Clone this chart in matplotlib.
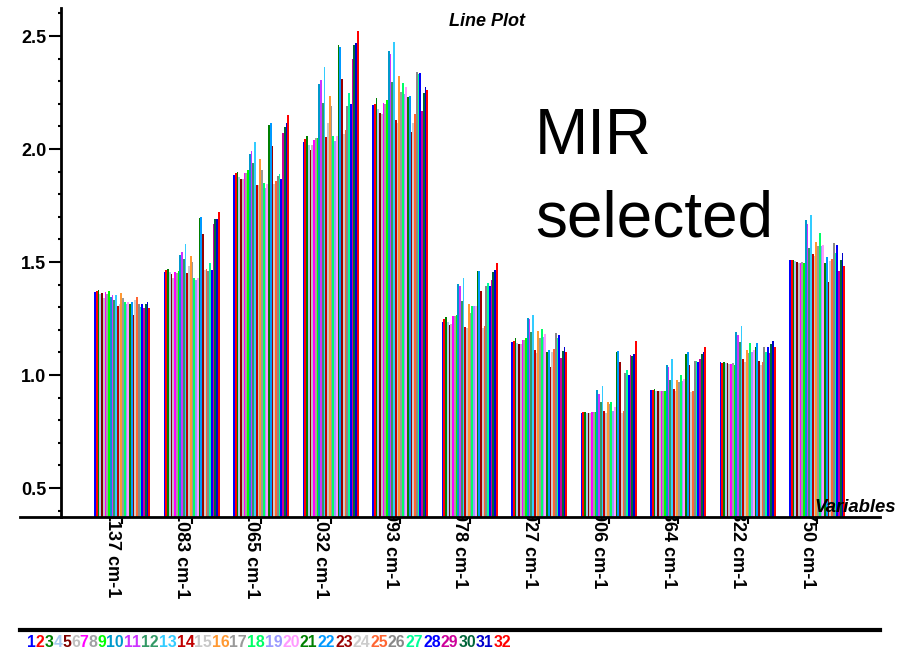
import numpy as np
import matplotlib
matplotlib.use("Agg")
import matplotlib.pyplot as plt
from matplotlib.transforms import Bbox, TransformedBbox, ScaledTranslation, blended_transform_factory
from matplotlib.lines import Line2D

plt.rcParams['font.family'] = ['Liberation Sans', 'DejaVu Sans']

# Datos: 11 variables (numero de onda), 32 muestras
variables = ["1137 cm-1", "1083 cm-1", "1065 cm-1", "1032 cm-1", "993 cm-1", "978 cm-1",
             "927 cm-1", "906 cm-1", "864 cm-1", "822 cm-1", "750 cm-1"]
muestras = [str(k) for k in range(1, 33)]

v1137 = [1.367, 1.372, 1.376, 1.36, 1.363, 1.342, 1.367, 1.36, 1.372, 1.347, 1.355, 1.332,
         1.355, 1.305, 1.314, 1.363, 1.34, 1.323, 1.314, 1.323, 1.314, 1.323, 1.266, 1.332,
         1.345, 1.314, 1.30, 1.314, 1.296, 1.314, 1.323, 1.296]
v1083 = [1.456, 1.465, 1.469, 1.456, 1.447, 1.429, 1.456, 1.451, 1.46, 1.531, 1.544, 1.513,
         1.58, 1.451, 1.482, 1.527, 1.50, 1.429, 1.42, 1.429, 1.695, 1.70, 1.624, 1.465,
         1.469, 1.46, 1.496, 1.465, 1.668, 1.69, 1.69, 1.721]
v1065 = [1.885, 1.894, 1.898, 1.876, 1.867, 1.867, 1.894, 1.894, 1.907, 1.978, 1.991, 1.938,
         2.031, 1.841, 1.841, 1.956, 1.907, 1.85, 1.827, 1.845, 2.106, 2.115, 2.013, 1.845,
         1.858, 1.881, 1.889, 1.867, 2.071, 2.097, 2.115, 2.15]
v1032 = [2.031, 2.044, 2.058, 2.018, 1.996, 2.018, 2.04, 2.049, 2.049, 2.288, 2.305, 2.204,
         2.363, 2.053, 2.115, 2.235, 2.19, 2.058, 2.035, 2.058, 2.46, 2.451, 2.31, 2.066,
         2.084, 2.19, 2.248, 2.2, 2.398, 2.46, 2.469, 2.522]
v993 = [2.195, 2.2, 2.226, 2.177, 2.159, 2.155, 2.204, 2.2, 2.217, 2.434, 2.42, 2.296,
        2.473, 2.128, 2.115, 2.323, 2.252, 2.292, 2.243, 2.274, 2.23, 2.235, 2.075, 2.115,
        2.155, 2.341, 2.332, 2.336, 2.168, 2.248, 2.274, 2.261]
v978 = [1.235, 1.248, 1.257, 1.235, 1.221, 1.226, 1.261, 1.261, 1.265, 1.403, 1.394, 1.327,
        1.429, 1.212, 1.208, 1.314, 1.274, 1.305, 1.305, 1.305, 1.46, 1.46, 1.372, 1.208,
        1.217, 1.394, 1.407, 1.394, 1.42, 1.456, 1.465, 1.496]
v927 = [1.146, 1.15, 1.164, 1.142, 1.137, 1.137, 1.155, 1.155, 1.164, 1.252, 1.248, 1.19,
        1.265, 1.111, 1.097, 1.195, 1.164, 1.204, 1.168, 1.181, 1.102, 1.111, 1.035, 1.102,
        1.115, 1.186, 1.164, 1.177, 1.075, 1.106, 1.124, 1.102]
v906 = [0.832, 0.836, 0.836, 0.83, 0.83, 0.83, 0.836, 0.836, 0.836, 0.934, 0.916, 0.88,
        0.951, 0.84, 0.83, 0.88, 0.87, 0.88, 0.84, 0.86, 1.102, 1.106, 1.058, 0.83,
        0.84, 1.009, 1.022, 1.0, 1.088, 1.084, 1.093, 1.15]
v864 = [0.934, 0.934, 0.938, 0.929, 0.929, 0.929, 0.929, 0.929, 0.929, 1.044, 1.035, 0.98,
        1.071, 0.938, 0.929, 0.978, 0.969, 1.0, 0.973, 0.982, 1.093, 1.102, 1.044, 0.925,
        0.929, 1.062, 1.062, 1.058, 1.071, 1.093, 1.102, 1.124]
v822 = [1.058, 1.053, 1.058, 1.053, 1.053, 1.049, 1.049, 1.053, 1.044, 1.19, 1.177, 1.146,
        1.217, 1.071, 1.058, 1.111, 1.097, 1.142, 1.102, 1.111, 1.124, 1.142, 1.062, 1.044,
        1.058, 1.124, 1.102, 1.124, 1.097, 1.137, 1.15, 1.124]
v750 = [1.509, 1.509, 1.509, 1.504, 1.50, 1.496, 1.496, 1.50, 1.496, 1.686, 1.668, 1.56,
        1.708, 1.535, 1.527, 1.588, 1.571, 1.628, 1.571, 1.575, 1.496, 1.522, 1.412, 1.504,
        1.513, 1.584, 1.54, 1.575, 1.46, 1.509, 1.54, 1.482]

datos = np.array([v1137, v1083, v1065, v1032, v993, v978, v927, v906, v864, v822, v750])

colores = ['#0000FF', '#FF0000', '#008000', '#A6CAF0', '#800000', '#C0C0C0', '#FF00FF', '#A0A0A4',
           '#00FF00', '#0099CC', '#CC33FF', '#339966', '#33CCFF', '#C00000', '#C8C8C8', '#FF9933',
           '#999999', '#00FF66', '#9999FF', '#FF99FF', '#008000', '#0099FF', '#990000', '#CCCCCC',
           '#FF6633', '#888888', '#00FF99', '#0000FF', '#CC0099', '#00663A', '#0000CC', '#FF0000']

# Figura
W, H = 898, 651
fig = plt.figure(figsize=(W/100, H/100), dpi=100)
ax = fig.add_axes([61/W, 1-517/H, (880-61)/W, (517-8)/H])

x = np.arange(len(variables))
wb = 0.0252
for j in range(32):
    ax.bar(x + (j - 15.5)*wb, datos[:, j] - 0.3717, width=wb, bottom=0.3717,
           color=colores[j], linewidth=0)

ax.set_xlim(-0.878, 10.906)
ax.set_ylim(0.3717, 2.624)
ax.set_yticks([0.5, 1.0, 1.5, 2.0, 2.5])
ax.set_yticks(np.arange(0.4, 2.61, 0.1), minor=True)
ax.set_yticklabels(["0.5", "1.0", "1.5", "2.0", "2.5"], fontsize=13, fontweight="bold")
ax.set_xticks(x)
ax.tick_params(axis="x", labelbottom=False, length=5, width=1.5, direction="out")
ax.tick_params(axis="y", which="major", length=8.5, width=1.5, pad=2)
ax.tick_params(axis="y", which="minor", length=2.5, width=1.5)
for s in ["top", "right"]:
    ax.spines[s].set_visible(False)
ax.spines["left"].set_linewidth(2)
ax.spines["bottom"].set_linewidth(2)

# etiquetas de variables (recortadas por el eje)
clip = TransformedBbox(Bbox([[0, 0], [1, (H-518)/H]]), fig.transFigure)
trans = blended_transform_factory(ax.transData, ax.transAxes) + \
    ScaledTranslation(-10/100, 6/100, fig.dpi_scale_trans)
for xi, lab in zip(x, variables):
    t = ax.text(xi, 0, lab, transform=trans, rotation=270, ha="center", va="top",
                fontsize=13, fontweight="bold", clip_on=True)
    t.set_clip_box(clip)

# linea del eje hacia la izquierda
fig.add_artist(Line2D([20/W, 61/W], [1-517/H, 1-517/H], color="black", lw=2))

fig.text(487/W, 1-22/H, "Line Plot", ha="center", va="center", fontsize=13,
         fontweight="bold", style="italic")
fig.text(896/W, 1-512/H, "Variables", ha="right", va="baseline", fontsize=13.3,
         fontweight="bold", style="italic")
fig.text(535/W, 1-236/H, "MIR\nselected", ha="left", va="baseline", fontsize=46,
         linespacing=1.46)

# leyenda de muestras
fig.add_artist(Line2D([20/W, 880/W], [1-630/H, 1-630/H], color="black", lw=3))
fs = 11.4
adv = 0.556*fs*100/72
pos = 27
for k, lab in enumerate(muestras):
    fig.text(pos/W, 1-647/H, lab, color=colores[k], fontsize=fs, fontweight="bold",
             ha="left", va="baseline")
    pos += adv*len(lab)

fig.savefig("out.png", dpi=100)
